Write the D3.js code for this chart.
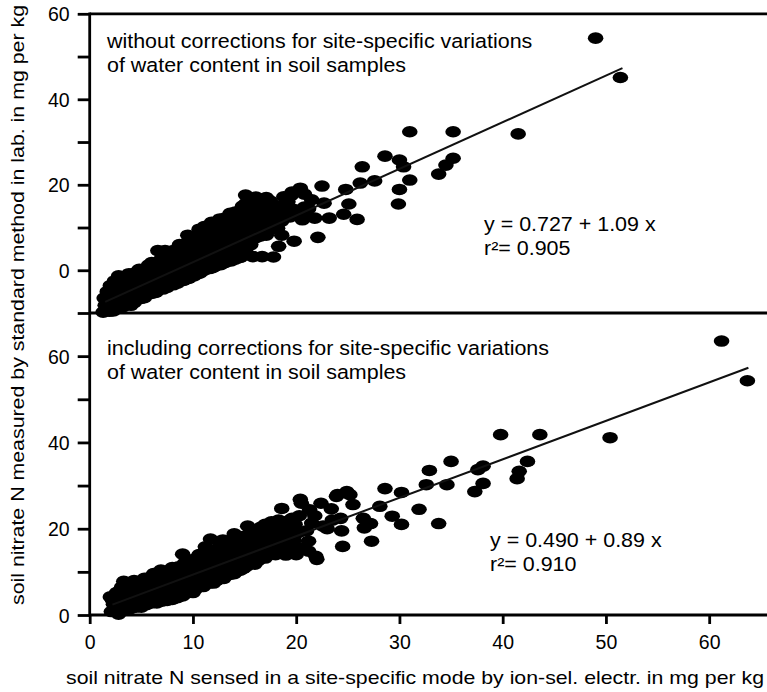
<!DOCTYPE html>
<html><head><meta charset="utf-8">
<script src="https://cdn.jsdelivr.net/npm/d3@7"></script>
<style>
body{margin:0;background:#fff;}
svg{display:block;}
text{font-family:"Liberation Sans",Arial,Helvetica,sans-serif;fill:#000;}
</style></head>
<body>
<svg id="c" width="767" height="692"></svg>
<script>
// ---------- data ----------
const xTicks = [0,10,20,30,40,50,60];
const yTicksTopMajor = [0,20,40,60];
const yTicksTopMinor = [-10,10,30,50];
const yTicksBotMajor = [0,20,40,60];
const yTicksBotMinor = [10,30,50];

const noteTop = ["without corrections for site-specific variations","of water content in soil samples"];
const noteBot = ["including corrections for site-specific variations","of water content in soil samples"];
const eqTop = ["y = 0.727 + 1.09 x","r\u00B2= 0.905"];
const eqBot = ["y = 0.490 + 0.89 x","r\u00B2= 0.910"];
const yTitle = "soil nitrate N measured by standard method in lab. in mg per kg";
const xTitle = "soil nitrate N sensed in a site-specific mode by ion-sel. electr. in mg per kg";

// regression line end points as drawn
const lineTopX = [1.5, 51.6];
const lineTopY = [-7.4, 47.3];
const lineBotX = [2.2, 63.8];
const lineBotY = [2.4, 57.3];

// points, upper panel (without corrections)
const pointsTop = [
[1.3,-9.8],[1.5,-8.2],[1.4,-6.5],[1.7,-5],[1.6,-9],[1.9,-7.4],[1.9,-9.6],[2.0,-3.6],
[2.3,-9.5],[2.5,-7.8],[2.2,-6],[2.6,-4.2],[2.4,-2.5],[2.8,-1.3],[2.7,-8.8],
[3.2,-8.6],[3.5,-6.8],[3.3,-5.2],[3.7,-3.4],[3.4,-1.8],[3.8,-0.8],[3.6,-7.5],[3.0,-7.2],[3.0,-3],
[4.3,-7.6],[4.6,-5.8],[4.2,-4],[4.7,-2.4],[4.4,-0.6],[4.8,0.2],[4.0,-8.2],[4.0,-5.4],[4.0,-2.2],
[5.3,-6.4],[5.6,-5.2],[5.4,-3.3],[5.8,-1.6],[5.5,0.3],[5.7,1.2],[5.0,-6.6],[5.0,-4.4],[5.0,-1.2],
[6.4,-5.2],[6.7,-4.2],[6.3,-2.6],[6.9,-0.8],[6.5,1],[6.8,2.3],[6.6,4.6],[7.3,4.6],[6.0,-5.4],[6.0,-3.6],[6.0,-0.2],[6.0,1.8],
[7.5,-4],[7.8,-3.2],[7.4,-2],[7.9,-0.3],[7.6,1.6],[7.7,3.3],[7.1,-4.4],[7.1,-1.4],[7.1,0.8],[7.1,2.8],
[8.5,-3],[8.8,-2.2],[8.4,-1],[8.9,0.8],[8.6,2.6],[8.8,4.4],[8.7,6],[8.1,-3.4],[8.1,-2.2],[8.1,0.4],[8.1,2.2],[8.1,4.6],
[9.6,-1.9],[9.9,-1.2],[9.5,-0.2],[9.8,1.7],[9.4,3.5],[9.9,5.3],[9.6,7],[9.5,8.2],[9.1,-2.4],[9.1,-1],[9.1,1.2],[9.1,3],[9.1,5.8],
[10.7,-0.6],[10.5,-0.8],[10.9,1],[10.4,2.8],[10.8,4.6],[10.5,6.4],[10.9,8.2],[10.6,9.6],[10.1,-1.3],[10.1,0],[10.1,2.2],[10.1,4.6],[10.1,6.8],
[11.6,0.4],[11.9,0.6],[11.5,2.3],[11.8,4.1],[11.4,5.9],[11.9,7.7],[11.5,9.4],[11.8,11.2],[11.1,0],[11.1,1.4],[11.1,3.6],[11.1,5.8],[11.1,8],[11.1,10.2],
[12.7,1.3],[12.5,1.8],[12.9,3.6],[12.4,5.4],[12.8,7.2],[12.5,9],[12.9,10.6],[12.6,12],[12.1,0.9],[12.1,2.4],[12.1,4.6],[12.1,6.6],[12.1,8.6],[12.1,10.6],
[13.7,2.2],[13.5,3],[13.9,4.8],[13.4,6.6],[13.8,8.4],[13.5,10.2],[13.9,11.8],[13.6,13.3],[13.1,1.8],[13.1,3.4],[13.1,5.6],[13.1,7.8],[13.1,10],[13.1,12.2],
[14.6,3],[14.9,4.7],[14.5,6.5],[14.8,8.2],[14.4,10],[14.9,11.7],[14.6,13.4],[14.8,15],[14.1,2.6],[14.1,4.6],[14.1,6.8],[14.1,9],[14.1,11.2],[14.1,13.6],
[15.8,3.2],[15.6,6],[15.9,7.8],[15.5,9.6],[15.8,11.4],[15.4,13.2],[15.9,15],[15.6,16.8],[15.1,17.6],[15.1,4.4],[15.1,6.8],[15.1,9],[15.1,11.2],[15.1,13.6],[15.1,15.6],
[16.7,3.2],[16.5,8],[16.9,9.8],[16.4,11.6],[16.8,13.4],[16.5,15.2],[16.1,17.1],[16.1,7.6],[16.1,10],[16.1,12.4],[16.1,14.6],
[17.8,3.1],[17.5,9.5],[17.9,11.2],[17.4,13],[17.8,14.6],[17.5,16.2],[17.1,8.2],[17.1,10.6],[17.1,12.4],[17.1,15],[17.1,17],
[18.3,5.6],[18.2,9.8],[18.6,11.5],[18.9,13.3],[18.5,15.1],[18.8,17.2],[18.6,8.2],[18.6,13],[19,14.6],[19.5,17.5],
[19.8,6.8],[19.6,18.3],[19.4,12.5],[19.8,14.2],[19.2,16],[20.4,19.2],[20.2,13],[20.6,11.8],[20.8,14.8],[20.8,17.8],[21,12.8],
[21.8,12.2],[21.2,14.4],[22.7,15.7],[22.5,19.7],[22.1,7.7],[21.5,16.5],
[23.2,12.2],[24.6,13.1],[25.1,15.5],[24.8,18.9],[25.9,11.9],[26.2,20.4],[26.4,24.2],[27.6,20.9],
[28.6,26.7],[30,25.8],[30.4,24.2],[31,21.1],[30,18.9],[29.9,15.5],[35.2,26.2],[34.5,24.6],[33.8,22.5],
[31,32.4],[35.2,32.4],[41.5,31.9],[49,54.3],[51.4,45.1]
];

// points, lower panel (including corrections)
const pointsBot = [
[2.1,0.8],[2.3,2.5],[2.0,4.2],[2.4,1.5],[2.2,3.5],[2.6,5.2],
[2.8,0.2],[3.0,2.2],[3.2,4],[2.9,5.6],[3.3,7.8],[3.1,6.5],[3.5,1.4],
[3.9,1.4],[4.2,2.8],[3.8,4.6],[4.1,6.4],[4.3,8],[4.5,1.8],[4.6,4],[4.6,6.2],[3.7,3],
[5.0,1.8],[4.8,3.2],[5.2,5],[4.9,6.8],[5.3,8.5],[5.5,2.4],[5.5,4.2],[5.6,6.6],[5.6,8.2],
[6.0,2.8],[6.3,3.4],[5.8,5.2],[6.2,7],[5.9,8.8],[6.2,9.6],[6.5,2.8],[6.5,5],[6.5,8.4],
[7.0,3.2],[6.8,4],[7.2,5.8],[6.9,7.6],[7.3,9.3],[6.9,10.4],[7.5,3.4],[7.6,4.6],[7.6,6.8],[7.6,8.6],[7.7,10.2],
[8.0,3.6],[7.8,4.4],[8.2,6.2],[7.9,8],[8.3,9.8],[8.0,11],[8.5,4],[8.6,5.4],[8.6,7.4],[8.6,9.2],[8.6,11.2],
[9.0,4.4],[9.3,5],[8.8,6.8],[9.2,8.6],[8.9,10.4],[9.2,12.1],[9.0,14.1],[9.6,6.2],[9.6,8.2],[9.6,10],[9.6,11.8],
[10.0,5.2],[10.2,5.9],[9.8,7.7],[10.3,9.4],[9.9,11.2],[10.2,13],[10.6,6.8],[10.6,8.4],[10.6,10.2],[10.6,12],[10.6,14],
[11.0,6.6],[10.8,7.1],[11.2,8.9],[10.9,10.7],[11.3,12.5],[11.0,14.2],[11.2,15.8],[11.6,7.4],[11.6,9.4],[11.6,11.2],[11.6,13],[11.6,15],
[12.0,7.4],[12.3,8],[11.8,9.8],[12.2,11.6],[11.9,13.4],[12.3,15.2],[11.7,17.6],[12.6,8.4],[12.6,10.2],[12.6,12.2],[12.6,14],[12.6,16],
[13.0,8.5],[12.8,9.1],[13.2,10.9],[12.9,12.7],[13.3,14.5],[13.0,16.3],[12.9,17.4],[13.6,9.4],[13.6,11.4],[13.6,13.2],[13.6,15.2],[13.6,17],
[14.0,9.6],[14.3,10.2],[13.8,12],[14.2,13.8],[13.9,15.6],[14.3,17.4],[14.0,18.8],[14.6,10.4],[14.6,12.4],[14.6,14.4],[14.6,16.4],[14.6,18.2],
[14.9,10.8],[15.2,11.3],[14.8,13.1],[15.3,14.9],[14.9,16.7],[15.3,18.5],[15.3,20.6],[15.6,12],[15.6,13.8],[15.6,15.8],[15.6,17.6],[15.6,19.4],
[16.0,11.8],[16.3,12.6],[15.8,14.4],[16.2,16.2],[15.9,18],[16.3,19.8],[16.6,13.2],[16.6,15],[16.6,17],[16.6,18.8],[16.6,20.4],
[17.0,13.2],[17.3,14],[16.8,15.8],[17.2,17.6],[16.9,19.4],[17.0,21],[17.6,14.2],[17.6,16],[17.6,18],[17.6,19.8],[17.6,21.6],
[18.0,14],[18.3,15],[17.8,16.8],[18.2,18.6],[17.9,20.4],[18.3,22],[18.6,24.7],[18.6,14.4],[18.6,17.2],[18.6,19.6],[18.6,21.4],
[19.0,13.9],[19.3,14.7],[18.8,16.5],[19.2,18.3],[18.9,20.1],[19.3,21.9],[19.6,16],[19.6,19.8],[19.6,22.4],
[20.0,14],[20.3,15.5],[19.8,17.3],[20.2,19.1],[19.9,21],[20.3,23],[20.5,25.9],[20.4,26.8],
[21.2,14.8],[21.2,17.1],[21.9,13.6],[21.0,19.5],[21.5,21.3],[21.8,23],[22.4,25.9],[22.0,12.9],[21.3,24.4],[22.6,20.6],
[23.0,20],[23.5,22],[24.3,22.4],[23.9,27.5],[24.5,15.9],[25.2,27.9],[25.5,25.6],[24.4,19.5],[24.0,27.9],[24.9,28.6],[23.4,24.6],
[26.5,22.4],[27.2,21.2],[27.3,17.1],[28.1,25.2],[28.6,29.3],[26.6,20.2],
[29.3,22.9],[30.2,21],[30.2,28.4],[31.9,24.5],[32.6,30.2],[33.8,21.2],[32.9,33.5],[34.6,30.2],[35,35.6],
[37.3,28.6],[38.1,30.5],[38.1,34.5],[37.6,33.7],[39.8,41.8],[43.6,41.8],[41.6,33.3],[41.4,31.6],[42.4,35.6],
[50.4,41.1],[61.2,63.5],[63.7,54.3]
];

// ---------- drawing ----------
const svg = d3.select("#c");
svg.append("rect").attr("width",767).attr("height",692).attr("fill","#fff");

const x = d3.scaleLinear().domain([0,65.6]).range([89.7,767]);
const yTop = d3.scaleLinear().domain([-10,60]).range([313,13.8]);
const yBot = d3.scaleLinear().domain([0,70]).range([615,313]);

const tickLen = 12, axisW = 2.8;
const dotRX = 7.8, dotRY = 5.8;
const stretch = 1.1;

function stretchedText(g, s, px, py, size){
  g.append("g").attr("transform",`translate(${px},${py}) scale(${stretch},1)`)
    .append("text").attr("font-size",size).text(s);
}

function panel(y, pts, lx, ly, majors, minors, note, eq, noteY, eqX, eqY){
  const g = svg.append("g");
  g.append("g").selectAll("ellipse").data(pts).join("ellipse")
    .attr("cx",d=>x(d[0])).attr("cy",d=>y(d[1]))
    .attr("rx",dotRX).attr("ry",dotRY).attr("fill","#000");
  g.append("line").attr("x1",x(lx[0])).attr("y1",y(ly[0]))
    .attr("x2",x(lx[1])).attr("y2",y(ly[1]))
    .attr("stroke","#111").attr("stroke-width",2);
  const ax = d3.axisLeft(y).tickValues(majors).tickSize(tickLen).tickPadding(8).tickFormat(d3.format("d"));
  const ag = g.append("g").attr("transform",`translate(${x(0)},0)`).call(ax);
  ag.select(".domain").remove();
  ag.selectAll("line").attr("stroke","#000").attr("stroke-width",axisW);
  ag.selectAll("text").attr("font-size",19.5).attr("dy","0.36em");
  const am = d3.axisLeft(y).tickValues(minors).tickSize(tickLen).tickFormat("");
  const amg = g.append("g").attr("transform",`translate(${x(0)},0)`).call(am);
  amg.select(".domain").remove();
  amg.selectAll("line").attr("stroke","#000").attr("stroke-width",axisW);
  note.forEach((s,i)=>stretchedText(g, s, 107, noteY+i*24, 19.5));
  eq.forEach((s,i)=>stretchedText(g, s, eqX, eqY+i*23.5, 19.5));
}

panel(yTop, pointsTop, lineTopX, lineTopY, yTicksTopMajor, yTicksTopMinor, noteTop, eqTop, 48, 484, 231);
panel(yBot, pointsBot, lineBotX, lineBotY, yTicksBotMajor, yTicksBotMinor, noteBot, eqBot, 355, 490, 547);

// frame lines
const fr = svg.append("g").attr("stroke","#000").attr("stroke-width",axisW);
fr.append("line").attr("x1",x(0)).attr("x2",767).attr("y1",yTop(60)).attr("y2",yTop(60));
fr.append("line").attr("x1",x(0)).attr("x2",767).attr("y1",yTop(-10)).attr("y2",yTop(-10));
fr.append("line").attr("x1",x(0)).attr("y1",yTop(60)-1.4).attr("x2",x(0)).attr("y2",yBot(0)+1.4);

// x axis
const xa = d3.axisBottom(x).tickValues(xTicks).tickSize(9).tickPadding(11).tickFormat(d3.format("d"));
const xg = svg.append("g").attr("transform",`translate(0,${yBot(0)})`).call(xa);
xg.select(".domain").attr("d",`M${x(0)},0H767`).attr("stroke","#000").attr("stroke-width",axisW);
xg.selectAll("line").attr("stroke","#000").attr("stroke-width",axisW);
xg.selectAll("text").attr("font-size",19.5);

// titles
svg.append("text").attr("font-size",19).attr("x",66).attr("y",683.5)
  .attr("textLength",698).attr("lengthAdjust","spacingAndGlyphs").text(xTitle);
svg.append("text").attr("font-size",18.5)
  .attr("transform","translate(24,605) rotate(-90)")
  .attr("textLength",600).attr("lengthAdjust","spacingAndGlyphs").text(yTitle);
</script>
</body></html>
